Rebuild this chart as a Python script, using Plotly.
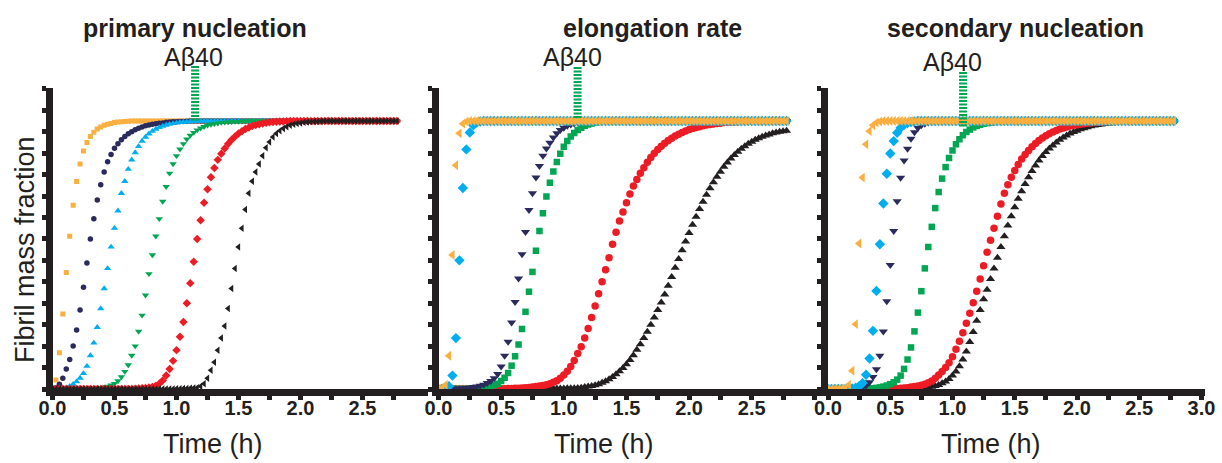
import plotly.graph_objects as go

# ---------------- data ----------------
time_s = [
    0, 100, 200, 300, 400, 500, 600, 700, 800, 900,
    1000, 1100, 1200, 1300, 1400, 1500, 1600, 1700, 1800, 1900,
    2000, 2100, 2200, 2300, 2400, 2500, 2600, 2700, 2800, 2900,
    3000, 3100, 3200, 3300, 3400, 3500, 3600, 3700, 3800, 3900,
    4000, 4100, 4200, 4300, 4400, 4500, 4600, 4700, 4800, 4900,
    5000, 5100, 5200, 5300, 5400, 5500, 5600, 5700, 5800, 5900,
    6000, 6100, 6200, 6300, 6400, 6500, 6600, 6700, 6800, 6900,
    7000, 7100, 7200, 7300, 7400, 7500, 7600, 7700, 7800, 7900,
    8000, 8100, 8200, 8300, 8400, 8500, 8600, 8700, 8800, 8900,
    9000, 9100, 9200, 9300, 9400, 9500, 9600, 9700, 9800, 9900,
    10000]

# primary nucleation panel
pn_orange = [
    0, 0.034, 0.135, 0.28, 0.435, 0.57, 0.686, 0.774, 0.84, 0.888,
    0.92, 0.942, 0.958, 0.97, 0.978, 0.984, 0.988, 0.991, 0.994, 0.996,
    0.997, 0.998, 0.999, 1, 1, 1, 1, 1, 1, 1,
    1, 1, 1, 1, 1, 1, 1, 1, 1, 1,
    1, 1, 1, 1, 1, 1, 1, 1, 1, 1,
    1, 1, 1, 1, 1, 1, 1, 1, 1, 1,
    1, 1, 1, 1, 1, 1, 1, 1, 1, 1,
    1, 1, 1, 1, 1, 1, 1, 1, 1, 1,
    1, 1, 1, 1, 1, 1, 1, 1, 1, 1,
    1, 1, 1, 1, 1, 1, 1, 1, 1, 1,
    1]
pn_navy = [
    0, 0.005, 0.018, 0.04, 0.075, 0.11, 0.16, 0.22, 0.295, 0.38,
    0.47, 0.56, 0.635, 0.705, 0.762, 0.81, 0.848, 0.875, 0.898, 0.915,
    0.93, 0.942, 0.952, 0.96, 0.967, 0.973, 0.978, 0.982, 0.985, 0.988,
    0.99, 0.992, 0.993, 0.995, 0.996, 0.997, 0.997, 0.998, 0.998, 0.999,
    1, 1, 1, 1, 1, 1, 1, 1, 1, 1,
    1, 1, 1, 1, 1, 1, 1, 1, 1, 1,
    1, 1, 1, 1, 1, 1, 1, 1, 1, 1,
    1, 1, 1, 1, 1, 1, 1, 1, 1, 1,
    1, 1, 1, 1, 1, 1, 1, 1, 1, 1,
    1, 1, 1, 1, 1, 1, 1, 1, 1, 1,
    1]
pn_cyan = [
    0, 0.001, 0.002, 0.003, 0.005, 0.01, 0.018, 0.028, 0.041, 0.058,
    0.085, 0.125, 0.172, 0.23, 0.3, 0.375, 0.45, 0.53, 0.6, 0.665,
    0.73, 0.775, 0.82, 0.855, 0.882, 0.905, 0.925, 0.94, 0.952, 0.962,
    0.97, 0.976, 0.981, 0.985, 0.988, 0.991, 0.993, 0.995, 0.996, 0.997,
    0.998, 0.999, 1, 1, 1, 1, 1, 1, 1, 1,
    1, 1, 1, 1, 1, 1, 1, 1, 1, 1,
    1, 1, 1, 1, 1, 1, 1, 1, 1, 1,
    1, 1, 1, 1, 1, 1, 1, 1, 1, 1,
    1, 1, 1, 1, 1, 1, 1, 1, 1, 1,
    1, 1, 1, 1, 1, 1, 1, 1, 1, 1,
    1]
pn_green = [
    0, 0, 0, 0, 0, 0, 0, 0, 0, 0,
    0.001, 0.002, 0.002, 0.003, 0.005, 0.007, 0.01, 0.014, 0.02, 0.03,
    0.045, 0.065, 0.09, 0.125, 0.16, 0.215, 0.275, 0.35, 0.43, 0.5,
    0.57, 0.635, 0.7, 0.755, 0.805, 0.84, 0.87, 0.895, 0.915, 0.932,
    0.946, 0.957, 0.966, 0.973, 0.979, 0.984, 0.987, 0.99, 0.992, 0.994,
    0.995, 0.996, 0.997, 0.998, 0.998, 0.999, 1, 1, 1, 1,
    1, 1, 1, 1, 1, 1, 1, 1, 1, 1,
    1, 1, 1, 1, 1, 1, 1, 1, 1, 1,
    1, 1, 1, 1, 1, 1, 1, 1, 1, 1,
    1, 1, 1, 1, 1, 1, 1, 1, 1, 1,
    1]
pn_red = [
    0, 0, 0, 0, 0, 0, 0, 0, 0, 0,
    0, 0, 0, 0, 0, 0, 0, 0, 0, 0,
    0, 0, 0, 0, 0.001, 0.002, 0.003, 0.004, 0.006, 0.008,
    0.012, 0.02, 0.032, 0.05, 0.075, 0.105, 0.145, 0.195, 0.25, 0.32,
    0.395, 0.475, 0.56, 0.63, 0.695, 0.745, 0.79, 0.825, 0.855, 0.878,
    0.897, 0.915, 0.93, 0.942, 0.953, 0.962, 0.97, 0.976, 0.981, 0.985,
    0.988, 0.991, 0.993, 0.995, 0.996, 0.997, 0.998, 0.998, 0.999, 1,
    1, 1, 1, 1, 1, 1, 1, 1, 1, 1,
    1, 1, 1, 1, 1, 1, 1, 1, 1, 1,
    1, 1, 1, 1, 1, 1, 1, 1, 1, 1,
    1]
pn_black = [
    0, 0, 0, 0, 0, 0, 0, 0, 0, 0,
    0, 0, 0, 0, 0, 0, 0, 0, 0, 0,
    0, 0, 0, 0, 0, 0, 0, 0, 0, 0,
    0, 0, 0, 0, 0, 0, 0.001, 0.001, 0.002, 0.002,
    0.003, 0.004, 0.005, 0.01, 0.02, 0.04, 0.07, 0.1, 0.145, 0.19,
    0.235, 0.3, 0.375, 0.45, 0.53, 0.6, 0.67, 0.73, 0.775, 0.81,
    0.84, 0.87, 0.9, 0.922, 0.94, 0.953, 0.964, 0.972, 0.979, 0.984,
    0.988, 0.991, 0.993, 0.995, 0.996, 0.997, 0.998, 0.998, 0.999, 1,
    1, 1, 1, 1, 1, 1, 1, 1, 1, 1,
    1, 1, 1, 1, 1, 1, 1, 1, 1, 1,
    1]

# elongation rate panel
el_orange = [
    0, 0.002, 0.015, 0.124, 0.5, 0.835, 0.954, 0.99, 0.998, 1,
    1, 1, 1, 1, 1, 1, 1, 1, 1, 1,
    1, 1, 1, 1, 1, 1, 1, 1, 1, 1,
    1, 1, 1, 1, 1, 1, 1, 1, 1, 1,
    1, 1, 1, 1, 1, 1, 1, 1, 1, 1,
    1, 1, 1, 1, 1, 1, 1, 1, 1, 1,
    1, 1, 1, 1, 1, 1, 1, 1, 1, 1,
    1, 1, 1, 1, 1, 1, 1, 1, 1, 1,
    1, 1, 1, 1, 1, 1, 1, 1, 1, 1,
    1, 1, 1, 1, 1, 1, 1, 1, 1, 1,
    1]
el_cyan = [
    0, 0.001, 0.002, 0.01, 0.05, 0.19, 0.48, 0.75, 0.894, 0.957,
    0.984, 0.994, 0.998, 1, 1, 1, 1, 1, 1, 1,
    1, 1, 1, 1, 1, 1, 1, 1, 1, 1,
    1, 1, 1, 1, 1, 1, 1, 1, 1, 1,
    1, 1, 1, 1, 1, 1, 1, 1, 1, 1,
    1, 1, 1, 1, 1, 1, 1, 1, 1, 1,
    1, 1, 1, 1, 1, 1, 1, 1, 1, 1,
    1, 1, 1, 1, 1, 1, 1, 1, 1, 1,
    1, 1, 1, 1, 1, 1, 1, 1, 1, 1,
    1, 1, 1, 1, 1, 1, 1, 1, 1, 1,
    1]
el_navy = [
    0, 0, 0.001, 0.001, 0.001, 0.002, 0.002, 0.003, 0.004, 0.005,
    0.007, 0.009, 0.012, 0.016, 0.022, 0.03, 0.04, 0.056, 0.084, 0.124,
    0.176, 0.248, 0.325, 0.412, 0.503, 0.586, 0.668, 0.73, 0.789, 0.832,
    0.87, 0.897, 0.919, 0.938, 0.954, 0.966, 0.975, 0.982, 0.987, 0.991,
    0.994, 0.996, 0.997, 0.998, 0.999, 1, 1, 1, 1, 1,
    1, 1, 1, 1, 1, 1, 1, 1, 1, 1,
    1, 1, 1, 1, 1, 1, 1, 1, 1, 1,
    1, 1, 1, 1, 1, 1, 1, 1, 1, 1,
    1, 1, 1, 1, 1, 1, 1, 1, 1, 1,
    1, 1, 1, 1, 1, 1, 1, 1, 1, 1,
    1]
el_green = [
    0, 0, 0, 0, 0, 0, 0, 0, 0, 0.001,
    0.002, 0.002, 0.003, 0.005, 0.007, 0.01, 0.014, 0.02, 0.03, 0.042,
    0.06, 0.087, 0.122, 0.166, 0.224, 0.288, 0.363, 0.437, 0.516, 0.59,
    0.656, 0.718, 0.77, 0.812, 0.847, 0.878, 0.904, 0.925, 0.942, 0.955,
    0.966, 0.975, 0.982, 0.987, 0.991, 0.994, 0.996, 0.997, 0.998, 0.999,
    1, 1, 1, 1, 1, 1, 1, 1, 1, 1,
    1, 1, 1, 1, 1, 1, 1, 1, 1, 1,
    1, 1, 1, 1, 1, 1, 1, 1, 1, 1,
    1, 1, 1, 1, 1, 1, 1, 1, 1, 1,
    1, 1, 1, 1, 1, 1, 1, 1, 1, 1,
    1]
el_red = [
    0, 0, 0, 0, 0, 0, 0, 0, 0, 0,
    0, 0, 0, 0, 0, 0, 0, 0, 0.001, 0.001,
    0.002, 0.002, 0.003, 0.003, 0.004, 0.005, 0.006, 0.007, 0.009, 0.011,
    0.013, 0.016, 0.02, 0.025, 0.031, 0.04, 0.052, 0.066, 0.084, 0.106,
    0.132, 0.158, 0.19, 0.226, 0.267, 0.31, 0.355, 0.4, 0.445, 0.49,
    0.54, 0.585, 0.627, 0.66, 0.695, 0.728, 0.757, 0.782, 0.805, 0.826,
    0.846, 0.864, 0.88, 0.894, 0.906, 0.917, 0.927, 0.936, 0.944, 0.951,
    0.957, 0.963, 0.968, 0.972, 0.976, 0.979, 0.982, 0.985, 0.987, 0.989,
    0.991, 0.992, 0.994, 0.995, 0.996, 0.996, 0.997, 0.998, 0.998, 0.999,
    0.999, 1, 1, 1, 1, 1, 1, 1, 1, 1,
    1]
el_black = [
    0, 0, 0, 0, 0, 0, 0, 0, 0, 0,
    0, 0, 0, 0, 0, 0, 0, 0, 0, 0,
    0, 0, 0, 0, 0, 0, 0, 0, 0, 0,
    0.001, 0.001, 0.001, 0.002, 0.002, 0.002, 0.002, 0.003, 0.003, 0.003,
    0.004, 0.005, 0.007, 0.009, 0.011, 0.014, 0.018, 0.023, 0.029, 0.036,
    0.045, 0.055, 0.066, 0.078, 0.092, 0.108, 0.126, 0.146, 0.167, 0.19,
    0.214, 0.24, 0.267, 0.295, 0.323, 0.353, 0.385, 0.418, 0.452, 0.485,
    0.518, 0.55, 0.582, 0.613, 0.643, 0.672, 0.699, 0.725, 0.749, 0.771,
    0.792, 0.811, 0.829, 0.845, 0.86, 0.873, 0.885, 0.896, 0.906, 0.915,
    0.923, 0.93, 0.936, 0.941, 0.946, 0.95, 0.954, 0.957, 0.96, 0.962,
    0.964]

# secondary nucleation panel
sn_orange = [
    0, 0, 0, 0, 0.001, 0.004, 0.015, 0.068, 0.242, 0.543,
    0.789, 0.913, 0.962, 0.984, 0.994, 0.998, 1, 1, 1, 1,
    1, 1, 1, 1, 1, 1, 1, 1, 1, 1,
    1, 1, 1, 1, 1, 1, 1, 1, 1, 1,
    1, 1, 1, 1, 1, 1, 1, 1, 1, 1,
    1, 1, 1, 1, 1, 1, 1, 1, 1, 1,
    1, 1, 1, 1, 1, 1, 1, 1, 1, 1,
    1, 1, 1, 1, 1, 1, 1, 1, 1, 1,
    1, 1, 1, 1, 1, 1, 1, 1, 1, 1,
    1, 1, 1, 1, 1, 1, 1, 1, 1, 1,
    1]
sn_cyan = [
    0, 0, 0, 0, 0, 0, 0.001, 0.002, 0.005, 0.01,
    0.022, 0.053, 0.114, 0.217, 0.366, 0.54, 0.692, 0.803, 0.879, 0.925,
    0.956, 0.975, 0.986, 0.992, 0.996, 0.998, 1, 1, 1, 1,
    1, 1, 1, 1, 1, 1, 1, 1, 1, 1,
    1, 1, 1, 1, 1, 1, 1, 1, 1, 1,
    1, 1, 1, 1, 1, 1, 1, 1, 1, 1,
    1, 1, 1, 1, 1, 1, 1, 1, 1, 1,
    1, 1, 1, 1, 1, 1, 1, 1, 1, 1,
    1, 1, 1, 1, 1, 1, 1, 1, 1, 1,
    1, 1, 1, 1, 1, 1, 1, 1, 1, 1,
    1]
sn_navy = [
    0, 0, 0, 0, 0, 0, 0, 0, 0.001, 0.003,
    0.007, 0.013, 0.025, 0.045, 0.074, 0.124, 0.215, 0.327, 0.463, 0.59,
    0.701, 0.788, 0.853, 0.896, 0.934, 0.958, 0.974, 0.984, 0.99, 0.994,
    0.997, 0.998, 1, 1, 1, 1, 1, 1, 1, 1,
    1, 1, 1, 1, 1, 1, 1, 1, 1, 1,
    1, 1, 1, 1, 1, 1, 1, 1, 1, 1,
    1, 1, 1, 1, 1, 1, 1, 1, 1, 1,
    1, 1, 1, 1, 1, 1, 1, 1, 1, 1,
    1, 1, 1, 1, 1, 1, 1, 1, 1, 1,
    1, 1, 1, 1, 1, 1, 1, 1, 1, 1,
    1]
sn_green = [
    0, 0, 0, 0, 0, 0, 0, 0, 0, 0,
    0.001, 0.001, 0.002, 0.003, 0.004, 0.006, 0.009, 0.013, 0.018, 0.025,
    0.035, 0.05, 0.075, 0.11, 0.155, 0.215, 0.285, 0.365, 0.45, 0.53,
    0.605, 0.675, 0.735, 0.785, 0.828, 0.862, 0.89, 0.913, 0.932, 0.947,
    0.959, 0.968, 0.976, 0.982, 0.986, 0.99, 0.992, 0.994, 0.996, 0.997,
    0.998, 0.998, 0.999, 1, 1, 1, 1, 1, 1, 1,
    1, 1, 1, 1, 1, 1, 1, 1, 1, 1,
    1, 1, 1, 1, 1, 1, 1, 1, 1, 1,
    1, 1, 1, 1, 1, 1, 1, 1, 1, 1,
    1, 1, 1, 1, 1, 1, 1, 1, 1, 1,
    1]
sn_red = [
    0, 0, 0, 0, 0, 0, 0, 0, 0, 0,
    0, 0, 0, 0, 0, 0, 0.001, 0.001, 0.001, 0.002,
    0.002, 0.003, 0.004, 0.005, 0.007, 0.009, 0.011, 0.014, 0.018, 0.023,
    0.03, 0.04, 0.052, 0.065, 0.08, 0.098, 0.12, 0.148, 0.178, 0.21,
    0.245, 0.283, 0.322, 0.365, 0.41, 0.46, 0.51, 0.555, 0.6, 0.645,
    0.69, 0.73, 0.762, 0.79, 0.815, 0.838, 0.858, 0.875, 0.89, 0.904,
    0.916, 0.927, 0.937, 0.945, 0.952, 0.959, 0.965, 0.97, 0.974, 0.978,
    0.981, 0.984, 0.986, 0.988, 0.99, 0.992, 0.993, 0.994, 0.995, 0.996,
    0.997, 0.998, 0.998, 0.999, 0.999, 1, 1, 1, 1, 1,
    1, 1, 1, 1, 1, 1, 1, 1, 1, 1,
    1]
sn_black = [
    0, 0, 0, 0, 0, 0, 0, 0, 0, 0,
    0, 0, 0, 0, 0, 0, 0, 0, 0, 0,
    0.001, 0.001, 0.002, 0.002, 0.003, 0.003, 0.004, 0.005, 0.006, 0.007,
    0.008, 0.011, 0.015, 0.021, 0.028, 0.037, 0.05, 0.065, 0.085, 0.11,
    0.14, 0.175, 0.213, 0.255, 0.295, 0.335, 0.37, 0.41, 0.45, 0.49,
    0.53, 0.57, 0.61, 0.645, 0.678, 0.71, 0.738, 0.765, 0.79, 0.813,
    0.834, 0.853, 0.869, 0.884, 0.897, 0.909, 0.92, 0.93, 0.938, 0.946,
    0.953, 0.959, 0.964, 0.969, 0.973, 0.977, 0.98, 0.983, 0.985, 0.987,
    0.989, 0.991, 0.992, 0.993, 0.994, 0.995, 0.996, 0.997, 0.997, 0.998,
    0.998, 0.999, 0.999, 1, 1, 1, 1, 1, 1, 1,
    1]

panel_titles = ["primary nucleation", "elongation rate", "secondary nucleation"]
x_title = "Time (h)"
y_title = "Fibril mass fraction"
marker_label = "A\u03b240"
abeta_time_h = [1.15, 1.11, 1.085]

x_tick_vals = [0, 0.25, 0.5, 0.75, 1.0, 1.25, 1.5, 1.75, 2.0, 2.25, 2.5, 2.75, 3.0]
x_tick_text_p1 = ["0.0", "", "0.5", "", "1.0", "", "1.5", "", "2.0", "", "2.5", ""]
x_tick_text_p2 = ["0.0", "", "0.5", "", "1.0", "", "1.5", "", "2.0", "", "2.5", "", ""]
x_tick_text_p3 = ["0.0", "", "0.5", "", "1.0", "", "1.5", "", "2.0", "", "2.5", "", "3.0"]
y_tick_vals = [0, 0.08, 0.16, 0.24, 0.32, 0.40, 0.48, 0.56, 0.64, 0.72, 0.80, 0.88, 0.96, 1.04, 1.12]

# ---------------- styling / layout ----------------
W, H = 1222, 463
INK = "#231F20"
C_ORANGE, C_NAVY, C_CYAN = "#FAAF40", "#2B2A5C", "#00AEEF"
C_GREEN, C_RED, C_BLACK = "#00A651", "#ED1C24", "#231F20"
FONT = "Arial, Liberation Sans, Helvetica, sans-serif"

time_h = [t / 3600 for t in time_s]

panels = [
    dict(left=52.5, right=428, pph=124.0, ticktext=x_tick_text_p1, tcx=213, ttx=195, ax=193, ay=57, ly0=66, ly1=121),
    dict(left=438.5, right=822, pph=125.3, ticktext=x_tick_text_p2, tcx=604, ttx=652, ax=572, ay=57, ly0=67, ly1=119),
    dict(left=828, right=1205, pph=124.5, ticktext=x_tick_text_p3, tcx=991, ttx=1015, ax=952, ay=62, ly0=72, ly1=127),
]
Y_BOT, Y_TOP, PPU = 389, 88, 268.0

series = [
    [  # primary: orange first, black on top
        (pn_orange, C_ORANGE, "square", 5),
        (pn_navy, C_NAVY, "circle", 5.5),
        (pn_cyan, C_CYAN, "triangle-up", 6.5),
        (pn_green, C_GREEN, "triangle-down", 6.5),
        (pn_red, C_RED, "diamond", 6.5),
        (pn_black, C_BLACK, "triangle-left", 6.5),
    ],
    [  # elongation: black first, orange on top
        (el_black, C_BLACK, "triangle-up", 8),
        (el_red, C_RED, "circle", 7.5),
        (el_green, C_GREEN, "square", 6.5),
        (el_navy, C_NAVY, "triangle-down", 8),
        (el_cyan, C_CYAN, "diamond", 8),
        (el_orange, C_ORANGE, "triangle-left", 8.5),
    ],
    [
        (sn_black, C_BLACK, "triangle-up", 8),
        (sn_red, C_RED, "circle", 7.5),
        (sn_green, C_GREEN, "square", 6.5),
        (sn_navy, C_NAVY, "triangle-down", 8),
        (sn_cyan, C_CYAN, "diamond", 8),
        (sn_orange, C_ORANGE, "triangle-left", 8.5),
    ],
]

for grp in series:
    for vals, *_ in grp:
        assert len(vals) == len(time_s), len(vals)

fig = go.Figure()
layout = dict(
    width=W, height=H, margin=dict(l=0, r=0, t=0, b=0),
    paper_bgcolor="white", plot_bgcolor="rgba(0,0,0,0)", showlegend=False,
    font=dict(family=FONT, color=INK), hovermode=False,
)
annotations, shapes = [], []

for i, (p, grp) in enumerate(zip(panels, series), start=1):
    xs = "" if i == 1 else str(i)
    for vals, col, sym, sz in grp:
        fig.add_trace(go.Scatter(
            x=time_h, y=vals, mode="markers", xaxis="x" + xs, yaxis="y" + xs,
            marker=dict(symbol=sym, size=sz, color=col, line=dict(width=0)),
            hoverinfo="skip"))
    nt = len(p["ticktext"])
    layout["xaxis" + xs] = dict(
        domain=[p["left"] / W, p["right"] / W],
        range=[0, (p["right"] - p["left"]) / p["pph"]],
        anchor="y" + xs, tickmode="array",
        tickvals=x_tick_vals[:nt], ticktext=p["ticktext"],
        showline=True, linewidth=7, linecolor=INK,
        ticks="outside", ticklen=4, tickwidth=5, tickcolor=INK,
        ticklabelstandoff=-9,
        showgrid=False, zeroline=False, fixedrange=True, automargin=False,
        tickfont=dict(family=FONT, size=20, color=INK, weight="bold"),
    )
    layout["yaxis" + xs] = dict(
        domain=[1 - Y_BOT / H, 1 - Y_TOP / H],
        range=[0, (Y_BOT - Y_TOP) / PPU],
        anchor="x" + xs, tickmode="array", tickvals=y_tick_vals,
        showticklabels=False,
        showline=True, linewidth=7, linecolor=INK,
        ticks="outside", ticklen=4, tickwidth=5, tickcolor=INK,
        showgrid=False, zeroline=False, fixedrange=True, automargin=False,
    )
    annotations.append(dict(text=x_title, x=p["tcx"] / W, y=1 - 444 / H, xref="paper", yref="paper",
                            showarrow=False, xanchor="center", yanchor="middle",
                            font=dict(family=FONT, size=27, color=INK)))
    annotations.append(dict(text=panel_titles[i - 1], x=p["ttx"] / W, y=1 - 28 / H, xref="paper", yref="paper",
                            showarrow=False, xanchor="center", yanchor="middle",
                            font=dict(family=FONT, size=25, color=INK, weight="bold")))
    annotations.append(dict(text=marker_label, x=p["ax"] / W, y=1 - p["ay"] / H, xref="paper", yref="paper",
                            showarrow=False, xanchor="center", yanchor="middle",
                            font=dict(family=FONT, size=25, color=INK)))
    lx = (p["left"] + abeta_time_h[i - 1] * p["pph"]) / W
    shapes.append(dict(type="line", xref="paper", yref="paper", x0=lx, x1=lx,
                       y0=1 - p["ly0"] / H, y1=1 - p["ly1"] / H,
                       line=dict(color=C_GREEN, width=8, dash="2px,1.5px"), layer="above"))

annotations.append(dict(text=y_title, x=25 / W, y=1 - 250 / H, xref="paper", yref="paper",
                        showarrow=False, textangle=-90, xanchor="center", yanchor="middle",
                        font=dict(family=FONT, size=27, color=INK)))

layout["annotations"] = annotations
layout["shapes"] = shapes
fig.update_layout(**layout)
fig.write_html("out.html", config={"displayModeBar": False, "staticPlot": True},
               post_script="document.body.style.margin='0';document.body.style.overflow='hidden';")
